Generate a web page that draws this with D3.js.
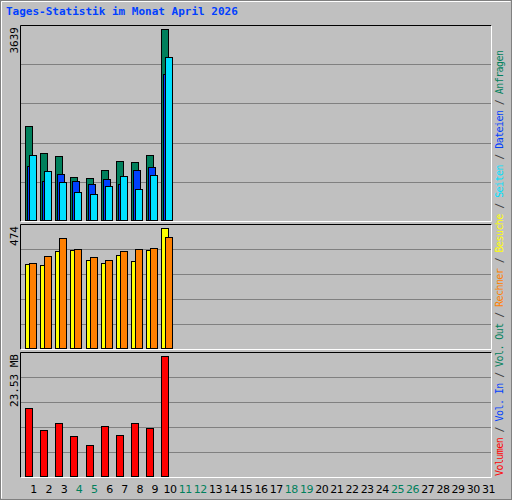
<!DOCTYPE html>
<html><head><meta charset="utf-8">
<script src="https://cdn.jsdelivr.net/npm/d3@7"></script>
<style>body{margin:0;background:#fff}</style>
</head><body>
<script>
var tage = d3.range(1, 32)
var wochenende = [4, 5, 11, 12, 18, 19, 25, 26]
var anfragen = [1791, 1277, 1220, 819, 800, 953, 1124, 1105, 1238, 3639]
var dateien = [1029, 743, 876, 743, 686, 781, 686, 953, 1010, 2782]
var seiten = [1238, 934, 724, 533, 495, 648, 838, 590, 857, 3105]
var besuche = [332, 327, 382, 386, 346, 335, 366, 342, 386, 474]
var rechner = [335, 362, 433, 390, 358, 346, 382, 390, 394, 438]
var volumen = [13.27, 8.96, 10.33, 7.78, 6.02, 9.75, 7.98, 10.33, 9.35, 23.53]
var farben = {anfragen: "#00805C", dateien: "#0040FF", seiten: "#00E0FF", besuche: "#FFFF00", rechner: "#FF8000", volumen: "#FF0000", volIn: "#0040FF", volOut: "#00805C"}

var svg = d3.select("body").append("svg").attr("width", 512).attr("height", 500)
    .style("font-family", "'DejaVu Sans Mono', monospace")

svg.append("rect").attr("x", 0.5).attr("y", 0.5).attr("width", 511).attr("height", 499)
    .attr("fill", "#C0C0C0").attr("stroke", "#808080")
svg.append("line").attr("x1", 1.5).attr("y1", 1.5).attr("x2", 510.5).attr("y2", 1.5).attr("stroke", "#fff")
svg.append("line").attr("x1", 1.5).attr("y1", 1.5).attr("x2", 1.5).attr("y2", 498.5).attr("stroke", "#fff")

svg.append("text").attr("x", 6).attr("y", 15).attr("fill", "#0040FF")
    .style("font-weight", "bold").style("font-size", "11px")
    .text("Tages-Statistik im Monat April 2026")

var x = d3.scaleBand().domain(tage).range([21, 491])

var panels = [
    {top: 25, bottom: 221, max: 3639, label: "3639", reihen: [["anfragen", anfragen, 4], ["dateien", dateien, 6], ["seiten", seiten, 8]]},
    {top: 224, bottom: 349, max: 474, label: "474", reihen: [["besuche", besuche, 4], ["rechner", rechner, 8]]},
    {top: 352, bottom: 477, max: 23.53, label: "23.53 MB", reihen: [["volumen", volumen, 4]]}
]

panels.forEach(function (p) {
    var y = d3.scaleLinear().domain([0, p.max]).range([p.bottom - 1, p.top + 4])
    var g = svg.append("g")
    g.selectAll(".grid").data(d3.range(1, 5)).enter().append("line")
        .attr("x1", 21).attr("x2", 491)
        .attr("y1", function (d) { return Math.round(p.top + d * (p.bottom - p.top) / 5) + 0.5 })
        .attr("y2", function (d) { return Math.round(p.top + d * (p.bottom - p.top) / 5) + 0.5 })
        .attr("stroke", "#808080")
    p.reihen.forEach(function (r) {
        g.selectAll(".b" + r[0]).data(r[1]).enter().append("rect")
            .attr("x", function (d, i) { return Math.round(x(i + 1) + r[2]) + 0.5 })
            .attr("y", function (d) { return Math.round(y(d)) + 0.5 })
            .attr("width", 7)
            .attr("height", function (d) { return p.bottom - 1 - Math.round(y(d)) })
            .attr("fill", farben[r[0]]).attr("stroke", "#000")
    })
    g.append("path").attr("d", "M20.5," + (p.bottom + 0.5) + "V" + (p.top + 0.5) + "H491.5")
        .attr("fill", "none").attr("stroke", "#000")
    g.append("path").attr("d", "M20.5," + (p.bottom + 0.5) + "H491.5V" + (p.top + 0.5))
        .attr("fill", "none").attr("stroke", "#fff")
    g.append("text").attr("transform", "translate(18," + (p.top + 2) + ") rotate(-90)")
        .attr("text-anchor", "end").style("font-size", "11px").attr("fill", "#000")
        .text(p.label)
})

svg.selectAll(".tag").data(tage).enter().append("text")
    .attr("x", function (d) { return x(d) + x.bandwidth() / 2 + 5 })
    .attr("y", 493).attr("text-anchor", "middle").style("font-size", "11px")
    .style("font-family", "'DejaVu Sans', sans-serif").attr("letter-spacing", "-0.5")
    .attr("fill", function (d) { return wochenende.indexOf(d) >= 0 ? "#00805C" : "#000" })
    .text(String)

var legende = [["Volumen", farben.volumen], [" / ", "#404040"], ["Vol. In", farben.volIn], [" / ", "#404040"],
    ["Vol. Out", farben.volOut], [" / ", "#404040"], ["Rechner", farben.rechner], [" / ", "#404040"],
    ["Besuche", farben.besuche], [" / ", "#404040"], ["Seiten", farben.seiten], [" / ", "#404040"],
    ["Dateien", farben.dateien], [" / ", "#404040"], ["Anfragen", farben.anfragen]]
var lt = svg.append("text").attr("transform", "translate(503,476) rotate(-90)")
    .style("font-size", "10px").attr("textLength", 426).attr("lengthAdjust", "spacing")
lt.selectAll("tspan").data(legende).enter().append("tspan")
    .attr("fill", function (d) { return d[1] }).style("white-space", "pre").text(function (d) { return d[0] })
</script>
</body></html>
